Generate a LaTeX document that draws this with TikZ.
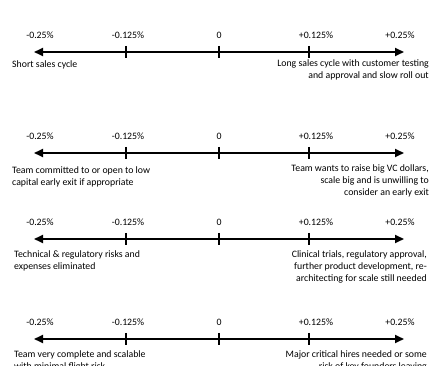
\documentclass[tikz,border=0pt]{standalone}
\usepackage{fontspec}
\setmainfont{Carlito}
\usetikzlibrary{arrows.meta}

\tikzset{
  axisline/.style={line width=1.7pt, {Triangle[length=9pt,width=8pt]}-{Triangle[length=9pt,width=8pt]}},
  tickmark/.style={line width=1.5pt},
  pctlabel/.style={font=\fontsize{9.8}{12}\selectfont, anchor=base, inner sep=0pt},
  leftnote/.style={font=\fontsize{9.8}{12}\selectfont, anchor=north west, align=left, inner sep=0pt},
  rightnote/.style={font=\fontsize{9.8}{12}\selectfont, anchor=north east, align=right, inner sep=0pt},
}

\begin{document}
\begin{tikzpicture}[x=1pt, y=-1pt]
            \useasboundingbox (0,0) rectangle (440,366);

            % four scales, same ticks and labels
            \foreach \r/\y in {1/52, 2/153, 3/239, 4/339} {
                \coordinate (l\r) at (34,\y);
                \coordinate (r\r) at (404,\y);
                \draw[axisline] (l\r) -- (r\r);
                \foreach \t/\x in {a/126, b/219, c/309} {
                    \coordinate (\t\r) at (\x,\y);
                    \draw[tickmark] ([yshift=6pt]\t\r) -- ([yshift=-6pt]\t\r);
                }
                \node[pctlabel] (lo\r) at (40,\y-13.7) {-0.25\%};
                \node[pctlabel] (lm\r) at (128,\y-13.7) {-0.125\%};
                \node[pctlabel] (z\r) at (219,\y-13.7) {0};
                \node[pctlabel] (pm\r) at (316,\y-13.7) {+0.125\%};
                \node[pctlabel] (hi\r) at (400,\y-13.7) {+0.25\%};
            }

            % notes under each scale
            \node[leftnote] (n1l) at (12,60) {Short sales cycle};
            \node[rightnote] (n1r) at (429,59.5) {Long sales cycle with customer testing\\and approval and slow roll out};

            \node[leftnote] (n2l) at (12,166) {Team committed to or open to low\\capital early exit if appropriate};
            \node[rightnote] (n2r) at (429,164.5) {Team wants to raise big VC dollars,\\scale big and is unwilling to\\consider an early exit};

            \node[leftnote] (n3l) at (14,250) {Technical \& regulatory risks and\\expenses eliminated};
            \node[rightnote] (n3r) at (427,250) {Clinical trials, regulatory approval,\\further product development, re-\\architecting for scale still needed};

            \node[leftnote] (n4l) at (14,350) {Team very complete and scalable\\with minimal flight risk};
            \node[rightnote] (n4r) at (427,350) {Major critical hires needed or some\\risk of key founders leaving};
\end{tikzpicture}
\end{document}
